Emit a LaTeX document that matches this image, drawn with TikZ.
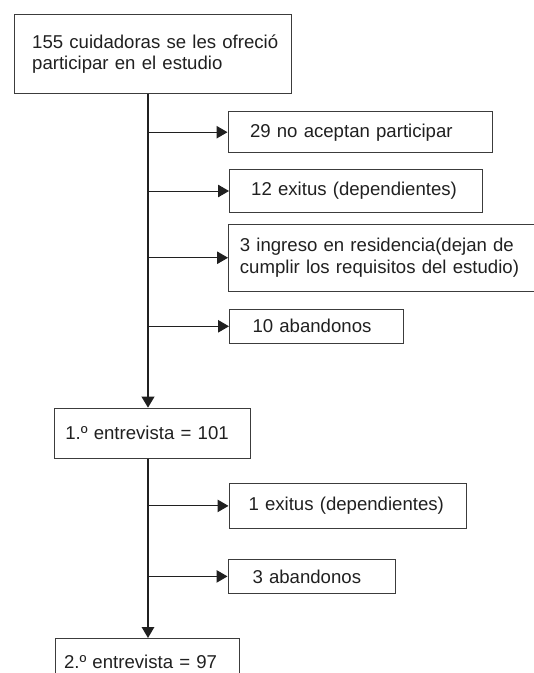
\documentclass[tikz,border=0pt]{standalone}
\usepackage{fontspec}
\setmainfont{Liberation Sans}
\usetikzlibrary{arrows.meta}
\definecolor{boxgray}{HTML}{3C3C3C}
\definecolor{inkgray}{HTML}{202020}

\begin{document}
\begin{tikzpicture}[x=1pt,y=-1pt,
  box/.style={draw=boxgray, line width=1pt, anchor=north west, align=left, inner ysep=2pt, text=inkgray, font=\fontsize{18.6}{21.5}\selectfont},
  trunk/.style={draw=inkgray, line width=2pt, -{Triangle[length=11pt,width=12.5pt]}},
  branch/.style={draw=inkgray, line width=1pt, -{Triangle[length=11pt,width=12.5pt]}}]
\useasboundingbox (0,0) rectangle (534,673);
\node[box, text width=241.1pt, inner xsep=17.7pt, minimum height=79.5pt] (offer) at (14,13.6) {\mbox{155 cuidadoras se les ofreció}\\\mbox{participar en el estudio}};
\node[box, text width=220pt, inner xsep=22pt, minimum height=40.6pt] (refuse) at (227.5,111.4) {\mbox{29 no aceptan participar}};
\node[box, text width=209.2pt, inner xsep=21.7pt, minimum height=43pt] (death1) at (229,169) {\mbox{12 exitus (dependientes)}};
\node[box, text width=297.2pt, inner xsep=11.4pt, minimum height=66.5pt] (resid) at (228,224) {\mbox{3 ingreso en residencia(dejan de}\\\mbox{cumplir los requisitos del estudio)}};
\node[box, text width=128pt, inner xsep=23pt, minimum height=33.6pt] (drop1) at (229,309) {\mbox{10 abandonos}};
\node[box, text width=174.5pt, inner xsep=11pt, minimum height=50pt] (int1) at (53.8,407.7) {\mbox{1.º entrevista = 101}};
\node[box, text width=198.5pt, inner xsep=19.5pt, minimum height=45.6pt] (death2) at (228.5,482.6) {\mbox{1 exitus (dependientes)}};
\node[box, text width=118pt, inner xsep=24.5pt, minimum height=34.8pt] (drop2) at (227.5,558.5) {\mbox{3 abandonos}};
\node[box, text width=166pt, inner xsep=9pt, minimum height=46pt] (int2) at (54.5,638) {\mbox{2.º entrevista = 97}};
\coordinate (spine) at (148,0);
\draw[trunk] (spine |- offer.south) -- (spine |- int1.north);
\foreach \b in {refuse,death1,resid,drop1}
  \draw[branch] (spine |- \b.west) -- (\b.west);
\draw[trunk, line width=1.5pt] (spine |- int1.south) -- (spine |- int2.north);
\foreach \b in {death2,drop2}
  \draw[branch] (spine |- \b.west) -- (\b.west);
\end{tikzpicture}
\end{document}
